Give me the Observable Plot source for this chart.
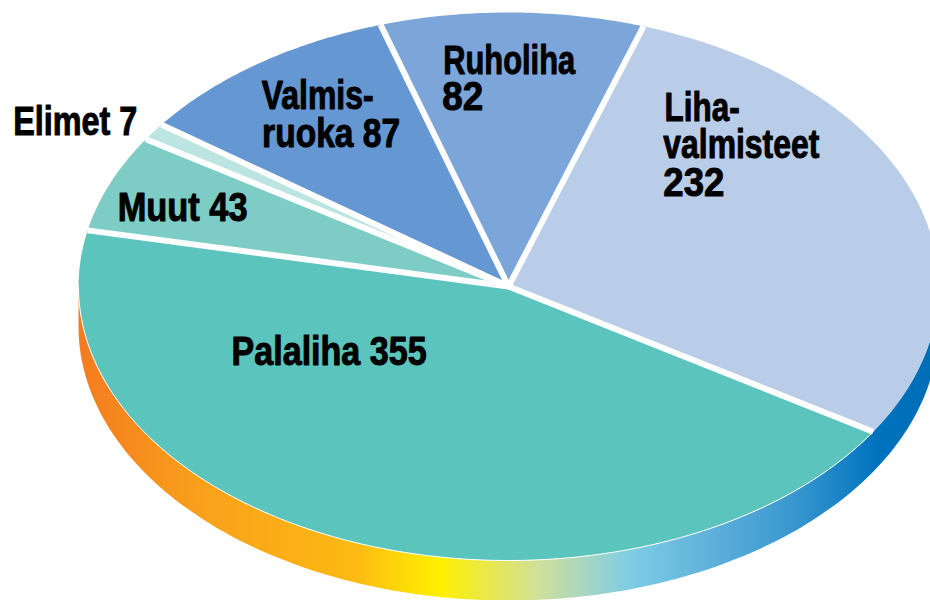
<!DOCTYPE html>
<html><head><meta charset="utf-8">
<style>html,body{margin:0;padding:0;background:#fff}svg{display:block}</style>
<script src="https://cdn.jsdelivr.net/npm/d3@7"></script>
<script src="https://cdn.jsdelivr.net/npm/@observablehq/plot@0.6"></script>
</head><body><div id="chart"></div>
<script>
// wedge sizes (the printed pie departs slightly from its labels)
const sliceValues = [232.2,357.8,46.3,8.3,81.7,79.7];
const sliceColors = ["#b9cde9","#5bc4bc","#7dccc6","#bce5e1","#6598d2","#7ca6d9"];
// printed labels, one entry per text line
const labelLines = ["Liha-","valmisteet","232","Palaliha 355","Muut 43","Elimet 7","Valmis-","ruoka 87","Ruholiha","82"];
const labelX = [.363,.360,.360,-.644,-.909,-1.152,-.574,-.573,-.152,-.154];
const labelY = [.651,.515,.378,-.241,.285,.600,.693,.557,.823,.690];
const labelWidth = [75,156,61,195,130,124,112,138,132,41];
const gradOffsets = [0,.14,.32,.42,.535,.64,.72,.83,.93,1];
const gradColors = ["#f47b20","#f9a01b","#fdb913","#fff000","#d0e09a","#7fcde5","#64b5dc","#3a98d0","#0072bd","#006db6"];
const startDeg = 18.3, depth = 0.146;

const total = d3.sum(sliceValues);
const rad = d => d*Math.PI/180;
const cum = d3.cumsum(sliceValues);
const bounds = [0,...cum].map(c => startDeg + c/total*360);
const P = (deg,dy=0) => ({x:Math.sin(rad(deg)),y:Math.cos(rad(deg))-dy});

const wedges = sliceValues.flatMap((v,i)=>{
  const a=bounds[i], b=bounds[i+1];
  return [{x:0,y:0},...d3.range(0,1.0001,1/60).map(t=>P(a+(b-a)*t)),{x:0,y:0}]
    .map(p=>({...p,i}));
});
const rim = [...d3.range(90,270.01,1).map(d=>P(d)),...d3.range(270,89.99,-1).map(d=>P(d,depth))];
const frontEdge = d3.range(122,270.01,1).map(d=>P(d));
const seps = bounds.slice(0,-1).flatMap((d,i)=>[{x:0,y:0,i},{...P(d),i}]);
const labels = labelLines.map((t,i)=>({t,x:labelX[i],y:labelY[i]}));

const defs = () => {
  const g = d3.create("svg:defs");
  const lg = g.append("linearGradient").attr("id","rimGrad").attr("gradientUnits","userSpaceOnUse")
    .attr("x1",78).attr("x2",938).attr("y1",0).attr("y2",0);
  gradOffsets.forEach((o,i)=>lg.append("stop").attr("offset",o).attr("stop-color",gradColors[i]));
  return g.node();
};

const chart = Plot.plot({
  width:930,height:600,margin:0,
  style:{background:"#fff",overflow:"hidden"},
  x:{type:"linear",domain:[-1,1],range:[78,938],axis:null},
  y:{type:"linear",domain:[1,-1],range:[12,560],axis:null},
  marks:[
    defs,
    Plot.line(rim,{x:"x",y:"y",fill:"url(#rimGrad)",stroke:"none",curve:"linear-closed"}),
    ...sliceValues.map((v,i)=>Plot.line(wedges.filter(d=>d.i===i),{x:"x",y:"y",fill:sliceColors[i],stroke:"none",curve:"linear-closed"})),
    Plot.line(seps,{x:"x",y:"y",z:"i",stroke:"#fff",strokeWidth:6,strokeLinecap:"butt"}),
    Plot.line(frontEdge,{x:"x",y:"y",stroke:"#fff",strokeWidth:1}),
    Plot.text(labels,{x:"x",y:"y",text:"t",textAnchor:"start",
      fontFamily:"'Liberation Sans',sans-serif",fontWeight:700,fontSize:40,
      fill:"#000",stroke:"#000",strokeWidth:1})
  ]
});
chart.querySelectorAll("text").forEach((el,i)=>{
  el.setAttribute("textLength",labelWidth[i]);
  el.setAttribute("lengthAdjust","spacingAndGlyphs");
});
document.getElementById("chart").append(chart);
</script></body></html>
